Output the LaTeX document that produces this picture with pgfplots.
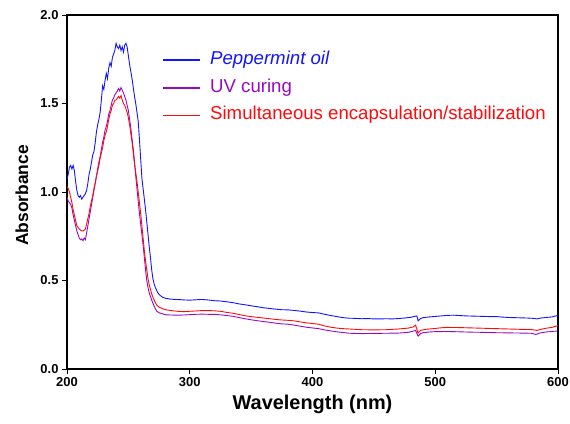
\documentclass[border=0pt]{standalone}
\usepackage{pgfplots}
\pgfplotsset{compat=1.18}
\usepackage{fontspec}
\setmainfont{Liberation Sans}
\usetikzlibrary{calc}

\definecolor{oilblue}{RGB}{20,20,255}
\definecolor{uvpurple}{RGB}{150,10,195}
\definecolor{encred}{RGB}{255,10,10}
\tikzset{legfont/.style={font=\fontsize{18.7}{22}\selectfont, inner sep=0pt, anchor=base west}}

\begin{document}
\begin{tikzpicture}
\begin{axis}[
  scale only axis,
  width=491bp, height=354bp,
  xmin=200, xmax=600, ymin=0, ymax=2,
  xtick={200,300,400,500,600},
  ytick={0,0.5,1,1.5,2},
  tick align=outside, xtick pos=bottom, ytick pos=left,
  major tick length=5bp,
  every tick/.style={black, line width=0.8bp},
  axis line style={line width=1.3bp},
  /pgf/number format/assume math mode=true,
  ticklabel style={font=\fontsize{13}{15}\selectfont\bfseries},
  yticklabel style={/pgf/number format/.cd, fixed, fixed zerofill, precision=1},
  xticklabel style={/pgf/number format/.cd, fixed, precision=0},
  xlabel={Wavelength (nm)},
  ylabel={Absorbance},
  xlabel style={at={(axis description cs:0.5,-0.1158)}, anchor=base, font=\fontsize{20}{22}\selectfont\bfseries},
  ylabel style={at={(axis description cs:-0.0917,0.49)}, anchor=center, font=\fontsize{17.5}{20}\selectfont\bfseries},
]

% Peppermint oil
\addplot[oilblue, line width=0.9bp] coordinates {
(200,1.07) (201,1.10) (202,1.14) (203,1.15) (204,1.13) (205,1.15) (206,1.12) (207,1.06)
(208,1.01) (209,0.98) (210,0.97) (211,0.98) (212,0.96) (213,0.97) (214,0.98) (215,0.99)
(216,1.01) (217,1.05) (218,1.10) (219,1.13) (220,1.17) (221,1.21) (222,1.23) (223,1.28)
(224,1.34) (225,1.38) (226,1.41) (227,1.45) (228,1.52) (229,1.60) (230,1.58) (231,1.63)
(232,1.67) (233,1.64) (234,1.70) (235,1.73) (236,1.71) (237,1.76) (238,1.78) (239,1.80)
(240,1.84) (241,1.82) (242,1.81) (243,1.83) (244,1.80) (245,1.82) (246,1.79) (247,1.83)
(248,1.84) (249,1.82) (250,1.77) (251,1.72) (252,1.68) (253,1.64) (254,1.59) (255,1.54)
(256,1.50) (257,1.45) (258,1.40) (259,1.30) (260,1.19) (261,1.08) (262,1.02) (263,0.96)
(264,0.90) (265,0.83) (266,0.76) (267,0.69) (268,0.63) (269,0.56) (270,0.51) (271,0.48)
(272,0.46) (273,0.445) (274,0.43) (276,0.415) (278,0.405) (280,0.400) (284,0.395) (288,0.393)
(292,0.392) (296,0.390) (300,0.389) (305,0.391) (310,0.393) (315,0.390) (320,0.386) (325,0.384)
(330,0.380) (335,0.375) (340,0.368) (345,0.363) (350,0.357) (355,0.352) (360,0.346) (365,0.342)
(370,0.338) (375,0.335) (380,0.334) (385,0.331) (390,0.327) (395,0.322) (400,0.319) (405,0.317)
(410,0.309) (415,0.302) (420,0.296) (425,0.290) (430,0.287) (435,0.286) (440,0.284) (445,0.285)
(450,0.283) (455,0.283) (460,0.284) (465,0.283) (470,0.285) (475,0.288) (480,0.292) (483,0.297)
(485,0.300) (486,0.272) (488,0.285) (490,0.290) (495,0.294) (500,0.297) (505,0.300) (510,0.303)
(515,0.304) (520,0.302) (525,0.300) (530,0.299) (535,0.298) (540,0.297) (545,0.296) (550,0.296)
(555,0.293) (560,0.291) (565,0.290) (570,0.289) (575,0.288) (580,0.286) (583,0.283) (586,0.288)
(590,0.291) (595,0.294) (600,0.303)
};

% UV curing
\addplot[uvpurple, line width=0.9bp] coordinates {
(200,0.97) (201,0.95) (202,0.94) (203,0.93) (204,0.91) (205,0.87) (206,0.84) (207,0.81)
(208,0.78) (209,0.76) (210,0.74) (211,0.73) (212,0.735) (213,0.725) (214,0.74) (215,0.73)
(216,0.77) (217,0.81) (218,0.85) (219,0.89) (220,0.93) (221,0.97) (222,1.01) (223,1.05)
(224,1.09) (225,1.13) (226,1.17) (227,1.20) (228,1.24) (229,1.28) (230,1.31) (231,1.35)
(232,1.37) (233,1.40) (234,1.44) (235,1.46) (236,1.49) (237,1.52) (238,1.53) (239,1.55)
(240,1.56) (241,1.57) (242,1.585) (243,1.57) (244,1.59) (245,1.575) (246,1.56) (247,1.54)
(248,1.52) (249,1.49) (250,1.46) (251,1.41) (252,1.36) (253,1.30) (254,1.24) (255,1.17)
(256,1.09) (257,1.02) (258,0.95) (259,0.88) (260,0.82) (261,0.76) (262,0.70) (263,0.63)
(264,0.56) (265,0.50) (266,0.46) (267,0.43) (268,0.41) (269,0.39) (270,0.37) (271,0.355)
(272,0.340) (273,0.327) (275,0.318) (278,0.311) (281,0.306) (285,0.305) (290,0.304) (295,0.305)
(300,0.307) (305,0.309) (310,0.310) (315,0.309) (320,0.309) (325,0.306) (330,0.302) (335,0.298)
(340,0.291) (345,0.284) (350,0.278) (355,0.273) (360,0.268) (365,0.264) (370,0.259) (375,0.255)
(380,0.253) (385,0.248) (390,0.242) (395,0.236) (400,0.232) (405,0.228) (410,0.221) (415,0.215)
(420,0.210) (425,0.206) (430,0.202) (435,0.201) (440,0.200) (450,0.201) (460,0.202) (470,0.203)
(478,0.207) (482,0.214) (484,0.218) (486,0.186) (488,0.200) (490,0.205) (495,0.209) (500,0.211)
(510,0.212) (520,0.210) (530,0.208) (540,0.207) (550,0.205) (560,0.204) (570,0.203) (578,0.202)
(582,0.195) (585,0.203) (590,0.209) (600,0.215)
};

% Simultaneous encapsulation/stabilization
\addplot[encred, line width=0.9bp] coordinates {
(200,1.03) (201,1.02) (202,1.00) (203,0.97) (204,0.94) (205,0.90) (206,0.87) (207,0.84)
(208,0.81) (209,0.80) (210,0.79) (211,0.785) (212,0.78) (213,0.78) (214,0.785) (215,0.79)
(216,0.82) (217,0.85) (218,0.88) (219,0.92) (220,0.95) (221,0.98) (222,1.02) (223,1.05)
(224,1.09) (225,1.12) (226,1.15) (227,1.19) (228,1.22) (229,1.25) (230,1.29) (231,1.32)
(232,1.34) (233,1.37) (234,1.41) (235,1.44) (236,1.46) (237,1.49) (238,1.50) (239,1.52)
(240,1.52) (241,1.53) (242,1.54) (243,1.53) (244,1.545) (245,1.52) (246,1.50) (247,1.49)
(248,1.47) (249,1.45) (250,1.42) (251,1.38) (252,1.33) (253,1.28) (254,1.22) (255,1.16)
(256,1.11) (257,1.06) (258,1.00) (259,0.94) (260,0.88) (261,0.81) (262,0.74) (263,0.67)
(264,0.61) (265,0.56) (266,0.51) (267,0.475) (268,0.45) (269,0.425) (270,0.405) (271,0.39)
(272,0.375) (273,0.362) (275,0.350) (278,0.340) (281,0.334) (285,0.330) (290,0.326) (295,0.324)
(300,0.326) (305,0.328) (310,0.330) (315,0.330) (320,0.329) (325,0.326) (330,0.320) (335,0.315)
(340,0.308) (345,0.301) (350,0.296) (355,0.292) (360,0.288) (365,0.284) (370,0.280) (375,0.277)
(380,0.275) (385,0.272) (390,0.266) (395,0.261) (400,0.257) (405,0.253) (410,0.243) (415,0.236)
(420,0.231) (425,0.228) (430,0.226) (440,0.222) (450,0.221) (460,0.222) (470,0.226) (478,0.231)
(482,0.238) (484,0.248) (486,0.203) (488,0.218) (492,0.224) (500,0.229) (505,0.233) (510,0.235)
(520,0.234) (530,0.232) (540,0.230) (550,0.228) (560,0.226) (570,0.224) (578,0.223) (583,0.218)
(586,0.224) (590,0.230) (595,0.235) (600,0.245)
};

% legend, drawn by hand
\draw[oilblue, line width=1.4bp] (axis description cs:0.1955,0.8729) -- (axis description cs:0.2709,0.8729);
\node[legfont, text=oilblue] at (axis description cs:0.2912,0.8602) {\itshape Peppermint oil};
\draw[uvpurple, line width=1.4bp] (axis description cs:0.1955,0.7938) -- (axis description cs:0.2709,0.7938);
\node[legfont, text=uvpurple] at (axis description cs:0.2912,0.7810) {UV curing};
\draw[encred, line width=1.4bp] (axis description cs:0.1955,0.7161) -- (axis description cs:0.2709,0.7161);
\node[legfont, text=encred] at (axis description cs:0.2912,0.7034) {Simultaneous encapsulation/stabilization};

\end{axis}
\pgfresetboundingbox
\useasboundingbox ($(current axis.south west)+(-67bp,-55bp)$) rectangle ($(current axis.north east)+(12bp,15bp)$);
\end{tikzpicture}
\end{document}
